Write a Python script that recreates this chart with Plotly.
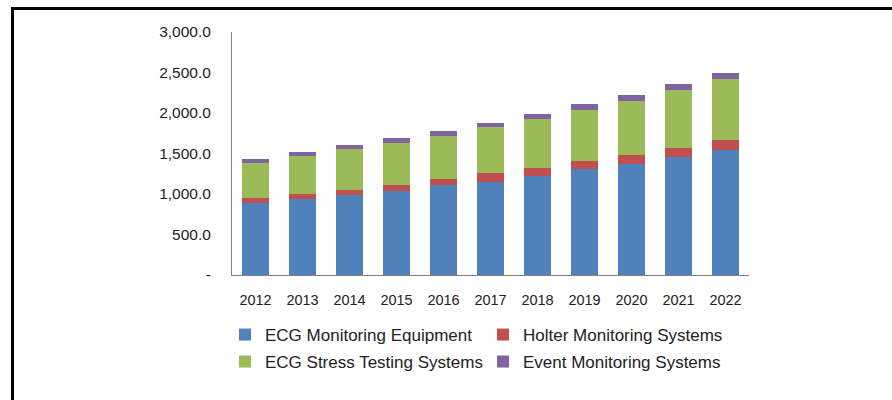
import plotly.graph_objects as go

years = ["2012", "2013", "2014", "2015", "2016", "2017", "2018", "2019", "2020", "2021", "2022"]
ecg_monitoring = [885, 934, 984, 1033, 1107, 1152, 1222, 1305, 1370, 1461, 1543]
holter = [66, 66, 65, 82, 74, 103, 99, 99, 115, 107, 124]
stress_testing = [428, 473, 503, 518, 535, 568, 601, 633, 667, 716, 753]
event_monitoring = [57, 45, 53, 54, 66, 57, 66, 70, 70, 70, 78]

ytick_vals = [0, 500, 1000, 1500, 2000, 2500, 3000]
ytick_text = ["-", "500.0", "1,000.0", "1,500.0", "2,000.0", "2,500.0", "3,000.0"]

series = [
    ("ECG Monitoring Equipment", ecg_monitoring, "#4F81BD", "legend"),
    ("Holter Monitoring Systems", holter, "#C0504D", "legend2"),
    ("ECG Stress Testing Systems", stress_testing, "#9BBB59", "legend3"),
    ("Event Monitoring Systems", event_monitoring, "#8064A2", "legend4"),
]

fig = go.Figure()
for name, vals, color, leg in series:
    fig.add_trace(go.Bar(x=years, y=vals, name=name, marker=dict(color=color, line=dict(width=0)),
                         legend=leg, showlegend=True))

W, H = 892, 400
L, R, T, B = 232, 143, 32, 125
pw, ph = W - L - R, H - T - B

def px(x):
    return (x - L) / pw

def py(y):
    return (H - B - y) / ph

legfont = dict(family="Liberation Sans, Arial", size=17, color="#222222")
def leg(xpx, ypx):
    return dict(x=px(xpx), y=py(ypx), xanchor="left", yanchor="middle", orientation="h",
                font=legfont, bgcolor="rgba(0,0,0,0)", borderwidth=0, visible=True)

fig.update_layout(
    width=W, height=H,
    margin=dict(l=L, r=R, t=T, b=B),
    barmode="stack",
    bargap=0.42,
    showlegend=True,
    plot_bgcolor="white",
    paper_bgcolor="white",
    font=dict(family="Liberation Sans, Arial", color="#222222"),
    legend=leg(225, 335),
    legend2=leg(483, 335),
    legend3=leg(225, 362),
    legend4=leg(483, 362),
    xaxis=dict(showline=True, linecolor="#808080", linewidth=1, ticks="", showgrid=False,
               ticklabelstandoff=12, tickfont=dict(size=14.5, color="#222222")),
    yaxis=dict(range=[0, 3000], tickvals=ytick_vals, ticktext=ytick_text, showgrid=False,
               showline=True, linecolor="#808080", linewidth=1, ticks="",
               ticklabelstandoff=17, tickfont=dict(size=15.5, color="#222222"), zeroline=False),
    shapes=[
        dict(type="line", xref="paper", yref="paper", x0=px(12.5), x1=px(900), y0=py(8.5), y1=py(8.5),
             line=dict(color="black", width=3)),
        dict(type="line", xref="paper", yref="paper", x0=px(12.5), x1=px(12.5), y0=py(7), y1=py(410),
             line=dict(color="black", width=3)),
    ],
)

fig.write_html("out.html", config={"displayModeBar": False},
               post_script="document.body.style.margin='0';document.body.style.overflow='hidden';")
